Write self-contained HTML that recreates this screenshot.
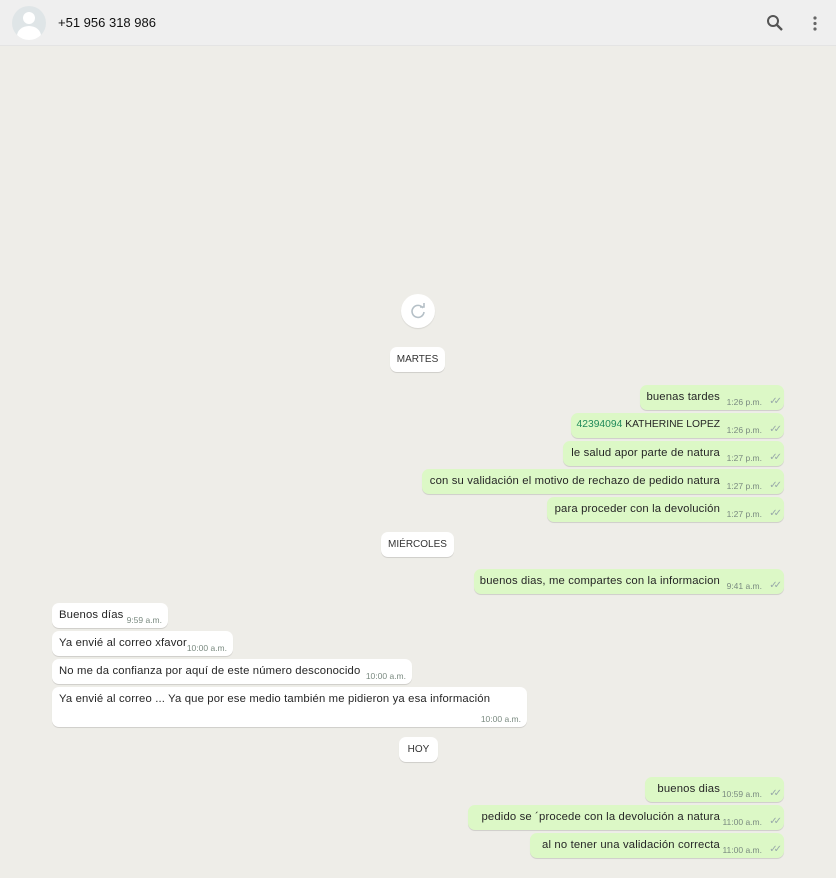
<!DOCTYPE html>
<html><head><meta charset="utf-8"><style>
*{margin:0;padding:0;box-sizing:border-box}
body{width:836px;height:878px;background:#eeede8;font-family:"Liberation Sans",sans-serif;position:relative;overflow:hidden;color:#262626}
.hdr{position:absolute;left:0;top:0;width:836px;height:46px;background:#efefef;border-bottom:1px solid #e4e4e4}
.av{position:absolute;left:12px;top:6px;width:34px;height:34px;border-radius:50%;background:#dfe5e7;overflow:hidden}
.av:before{content:"";position:absolute;left:11px;top:6px;width:12px;height:12px;border-radius:50%;background:#fff}
.av:after{content:"";position:absolute;left:5px;top:20px;width:24px;height:20px;border-radius:50%;background:#fff}
.name{position:absolute;left:58px;top:15px;font-size:13px;color:#111}
.b{position:absolute;height:25px;border-radius:7px;font-size:11.3px;letter-spacing:0.15px;box-shadow:0 1px 0.5px rgba(0,0,0,.13)}
.o{background:#dcf8c6;right:52px}
.i{background:#fff;left:52px}
.t{position:absolute;top:6px;white-space:nowrap}
.o .t{right:64px}
.i .t{left:7px}
.tm{position:absolute;font-size:8.5px;letter-spacing:0;color:#7a8a80;bottom:3px;white-space:nowrap}
.o .tm{right:22px}
.i .tm{right:6px}
.ck{position:absolute;right:6px;bottom:3px;font-size:10px;color:#9aa;letter-spacing:-4px}
.pill{position:absolute;height:25px;background:#fff;border-radius:7px;font-size:10px;color:#333;text-align:center;line-height:25px;box-shadow:0 1px 0.5px rgba(0,0,0,.13)}
</style></head><body>
<div class="hdr"><div class="av"></div><div class="name">+51 956 318 986</div>
<svg style="position:absolute;left:766px;top:14px" width="18" height="18"><circle cx="7" cy="7" r="5" fill="none" stroke="#555" stroke-width="2"/><line x1="11" y1="11" x2="16" y2="16" stroke="#555" stroke-width="2.3"/></svg>
<svg style="position:absolute;left:812px;top:15px" width="6" height="18"><circle cx="3" cy="3" r="1.6" fill="#666"/><circle cx="3" cy="8.5" r="1.6" fill="#666"/><circle cx="3" cy="14" r="1.6" fill="#666"/></svg>
</div>
<div style="position:absolute;left:401px;top:294px;width:34px;height:34px;border-radius:50%;background:#fff;box-shadow:0 1px 1px rgba(0,0,0,.1)"><svg width="34" height="34"><path d="M22 14 A6 6 0 1 0 23 18" fill="none" stroke="#b5c0c7" stroke-width="1.6"/><path d="M19 13 L23 13 L23 9" fill="none" stroke="#b5c0c7" stroke-width="1.6"/></svg></div>
<div class="pill" style="left:390px;top:347px;width:55px">MARTES</div>
<div class="b o" style="left:640px;top:385px"><span class="t">buenas tardes</span><span class="tm">1:26 p.m.</span><span class="ck">✓✓</span></div>
<div class="b o" style="left:571px;top:413px"><span class="t" style="font-size:10.3px;letter-spacing:0"><span style="color:#1f8a5a">42394094</span> KATHERINE LOPEZ</span><span class="tm">1:26 p.m.</span><span class="ck">✓✓</span></div>
<div class="b o" style="left:563px;top:441px"><span class="t">le salud apor parte de natura</span><span class="tm">1:27 p.m.</span><span class="ck">✓✓</span></div>
<div class="b o" style="left:422px;top:469px"><span class="t">con su validación el motivo de rechazo de pedido natura</span><span class="tm">1:27 p.m.</span><span class="ck">✓✓</span></div>
<div class="b o" style="left:547px;top:497px"><span class="t">para proceder con la devolución</span><span class="tm">1:27 p.m.</span><span class="ck">✓✓</span></div>
<div class="pill" style="left:381px;top:532px;width:73px">MIÉRCOLES</div>
<div class="b o" style="left:474px;top:569px"><span class="t">buenos dias, me compartes con la informacion</span><span class="tm">9:41 a.m.</span><span class="ck">✓✓</span></div>
<div class="b i" style="top:603px;width:116px"><span class="t">Buenos días</span><span class="tm">9:59 a.m.</span></div>
<div class="b i" style="top:631px;width:181px"><span class="t">Ya envié al correo xfavor</span><span class="tm">10:00 a.m.</span></div>
<div class="b i" style="top:659px;width:360px"><span class="t">No me da confianza por aquí de este número desconocido</span><span class="tm">10:00 a.m.</span></div>
<div class="b i" style="top:687px;width:475px;height:40px"><span class="t">Ya envié al correo ... Ya que por ese medio también me pidieron ya esa información</span><span class="tm">10:00 a.m.</span></div>
<div class="pill" style="left:399px;top:737px;width:39px">HOY</div>
<div class="b o" style="left:645px;top:777px"><span class="t">buenos dias</span><span class="tm">10:59 a.m.</span><span class="ck">✓✓</span></div>
<div class="b o" style="left:468px;top:805px"><span class="t">pedido se ´procede con la devolución a natura</span><span class="tm">11:00 a.m.</span><span class="ck">✓✓</span></div>
<div class="b o" style="left:530px;top:833px"><span class="t">al no tener una validación correcta</span><span class="tm">11:00 a.m.</span><span class="ck">✓✓</span></div>
</body></html>
